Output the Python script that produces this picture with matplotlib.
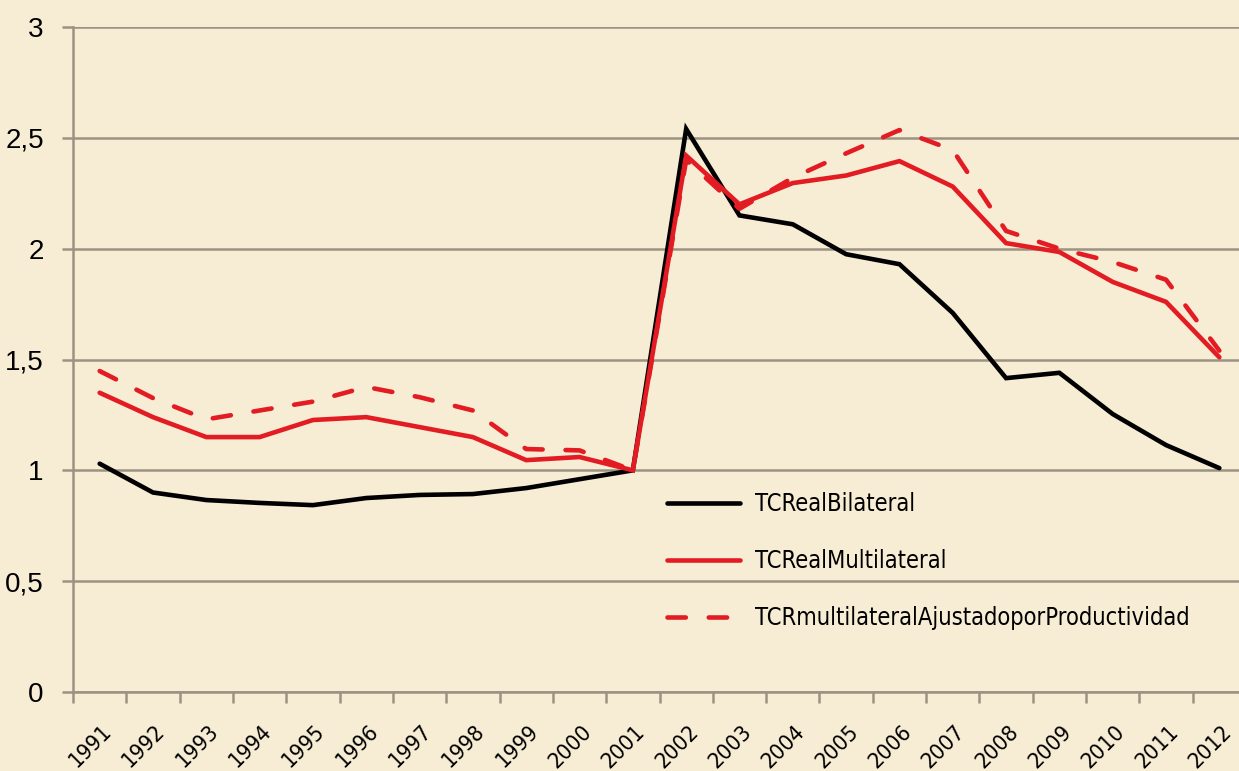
import matplotlib.pyplot as plt
import matplotlib.transforms as mtrans
import numpy as np

# data
years = ['1991', '1992', '1993', '1994', '1995', '1996', '1997', '1998', '1999', '2000', '2001',
         '2002', '2003', '2004', '2005', '2006', '2007', '2008', '2009', '2010', '2011', '2012']
bilateral = [1.03, 0.90, 0.866, 0.853, 0.843, 0.875, 0.889, 0.893, 0.92, 0.96, 1.0,
             2.54, 2.15, 2.11, 1.975, 1.93, 1.71, 1.416, 1.44, 1.254, 1.114, 1.01]
multilateral = [1.35, 1.24, 1.15, 1.15, 1.227, 1.24, 1.195, 1.15, 1.046, 1.06, 1.0,
                2.42, 2.20, 2.296, 2.33, 2.395, 2.28, 2.025, 1.985, 1.85, 1.76, 1.51]
ajustado = [1.448, 1.326, 1.23, 1.27, 1.31, 1.376, 1.33, 1.27, 1.096, 1.09, 1.0,
            2.40, 2.18, 2.32, 2.43, 2.535, 2.445, 2.08, 2.0, 1.94, 1.86, 1.54]
series_names = ['TCRealBilateral', 'TCRealMultilateral', 'TCRmultilateralAjustadoporProductividad']
yticks = [0, 0.5, 1, 1.5, 2, 2.5, 3]
ytick_labels = ['0', '0,5', '1', '1,5', '2', '2,5', '3']

bg = '#F7ECD4'
grid_col = '#9A9282'
red = '#E31B23'

fig = plt.figure(figsize=(12.39, 7.71), dpi=100, facecolor=bg)
ax = fig.add_axes([73/1239, 1 - 692/771, 1173/1239, 665/771], facecolor=bg)

x = np.arange(len(years))
ax.plot(x, bilateral, color='black', lw=3.3, solid_capstyle='round', solid_joinstyle='miter',
        label=series_names[0], zorder=3)
ax.plot(x, multilateral, color=red, lw=3.3, solid_capstyle='round', solid_joinstyle='miter',
        label=series_names[1], zorder=3)
ax.plot(x, ajustado, color=red, lw=3.3, dashes=(4, 5), dash_capstyle='round',
        label=series_names[2], zorder=4)

ax.set_xlim(-0.5, len(years) - 0.5)
ax.set_ylim(0, 3)
ax.set_yticks(yticks)
ax.set_yticklabels(ytick_labels, fontsize=20, family='Liberation Sans')
ax.yaxis.grid(True, color=grid_col, lw=1.8)
ax.set_axisbelow(True)

# x ticks between categories, labels at category centers
ax.set_xticks(np.arange(-0.5, len(years)))
ax.set_xticklabels([])
ax.set_xticks(x, minor=True)
ax.set_xticklabels(years, minor=True, rotation=45, ha='center', fontsize=16,
                   family='DejaVu Sans', fontstretch='condensed')
ax.tick_params(axis='x', which='minor', length=0, pad=21)
ax.tick_params(axis='x', which='major', length=8, width=1.8, color=grid_col)
ax.tick_params(axis='y', length=8, width=1.8, color=grid_col, pad=13)
shift = mtrans.ScaledTranslation(-9/100, 0, fig.dpi_scale_trans)
for lab in ax.xaxis.get_minorticklabels():
    lab.set_transform(lab.get_transform() + shift)

for s in ['top', 'right']:
    ax.spines[s].set_visible(False)
for s in ['left', 'bottom']:
    ax.spines[s].set_color(grid_col)
    ax.spines[s].set_linewidth(1.8)

leg = ax.legend(loc='upper left', bbox_to_anchor=(646/1239, 1 - 471/771),
                bbox_transform=fig.transFigure, frameon=False,
                prop={'family': 'DejaVu Sans', 'stretch': 'condensed', 'size': 17},
                handlelength=3.1, handletextpad=0.6, labelspacing=1.4)

plt.savefig('out.png', dpi=100, facecolor=bg)
